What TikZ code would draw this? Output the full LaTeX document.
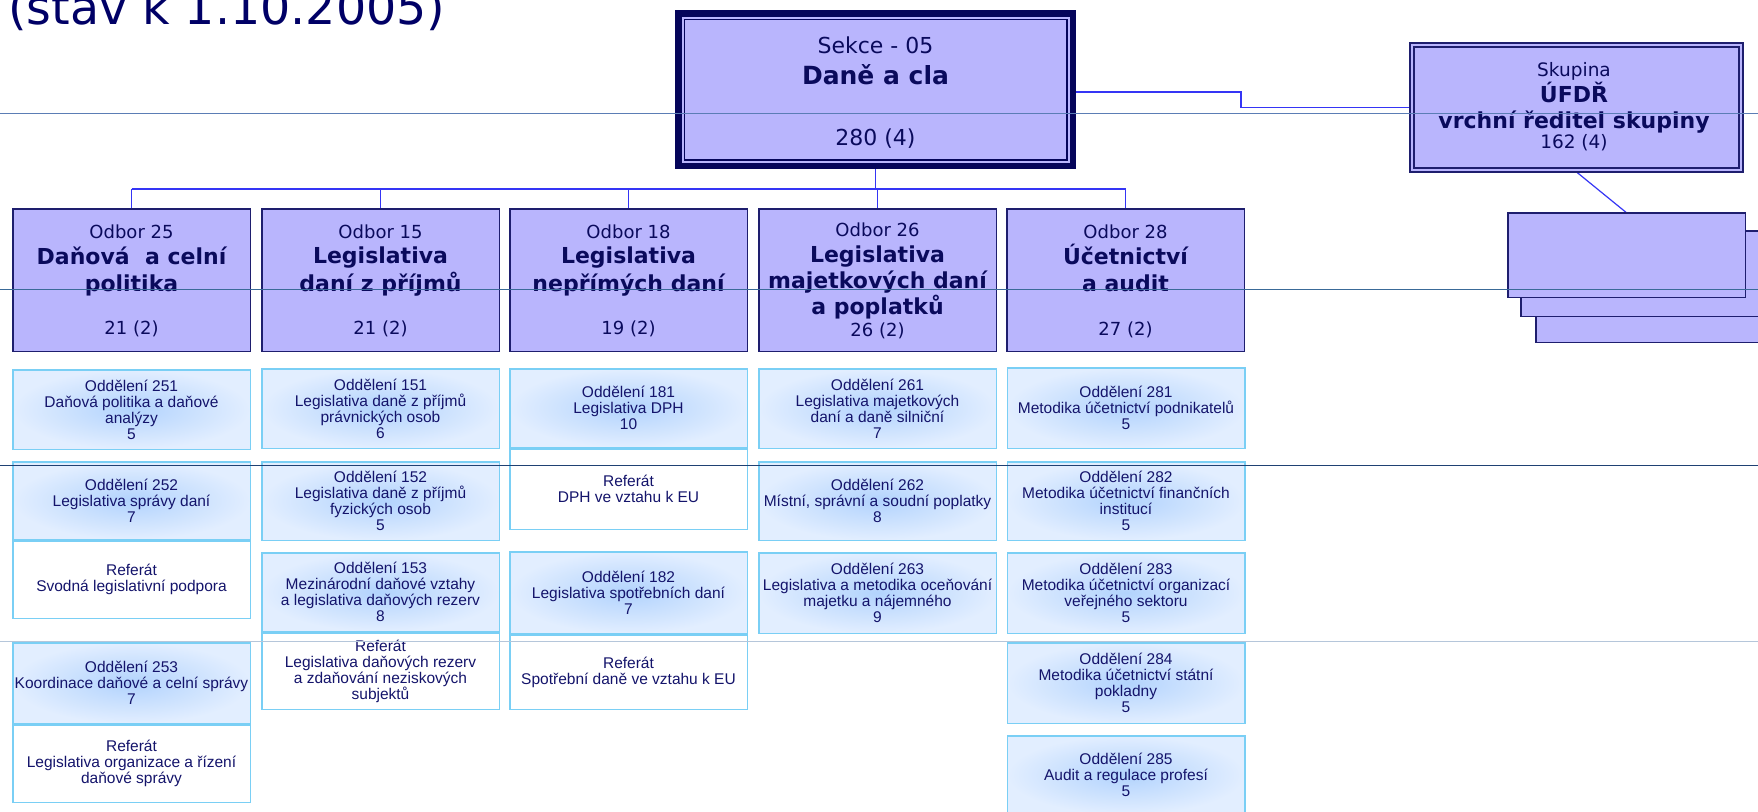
\documentclass[tikz,border=0pt]{standalone}
\usepackage{fontspec}
\setmainfont{DejaVu Sans}
\newfontfamily\arialf{Liberation Sans}
\usetikzlibrary{calc,backgrounds}
\definecolor{lav}{HTML}{B9B5FD}
\definecolor{boxline}{HTML}{1E1E6E}
\definecolor{boxthick}{HTML}{05055A}
\definecolor{navyt}{HTML}{0A0A5C}
\definecolor{titlec}{HTML}{000066}
\definecolor{connb}{HTML}{3535F5}
\definecolor{skyb}{HTML}{7ACFF5}
\definecolor{oddin}{HTML}{B2D3FD}
\definecolor{oddout}{HTML}{E2EEFF}
\definecolor{oddtext}{HTML}{14146B}
\definecolor{gA}{HTML}{5B7DB5}
\definecolor{gB}{HTML}{3A6A98}
\definecolor{gC}{HTML}{1F4173}
\definecolor{gD}{HTML}{B5C6DA}
\begin{document}
\begin{tikzpicture}[x=1pt,y=-1pt,
  conn/.style={draw=connb,line width=1.8pt},
  guide/.style={line width=1pt},
  odbor/.style={draw=boxline,line width=1.5pt,fill=lav,minimum width=237.5pt,minimum height=142.5pt,inner sep=0pt,outer sep=0pt},
  otxt/.style={text=navyt,inner sep=0pt,anchor=base},
  hd/.style={otxt,font=\fontsize{18}{20}\selectfont},
  tt/.style={otxt,font=\bfseries\fontsize{22}{26}\selectfont},
  dept/.style={draw=skyb,line width=1.5pt,minimum width=237.5pt,inner sep=0pt,outer sep=0pt,align=center,text=oddtext,font=\arialf\fontsize{15.5}{16}\selectfont},
  oddel/.style={dept,inner color=oddin,outer color=oddout},
  refer/.style={dept,fill=white},
  stack/.style={draw=boxline,line width=1.5pt,fill=lav,inner sep=0pt,outer sep=0pt}
]
\useasboundingbox (0,0) rectangle (1758,811);

% title
\node[anchor=base west,inner sep=0pt,text=titlec,font=\fontsize{47.5}{50}\selectfont] (title) at (8,24) {(stav k 1.10.2005)};

% Sekce
\node[draw=boxthick,fill=lav,line width=6.5pt,minimum width=394.5pt,minimum height=152.5pt,inner sep=0pt,outer sep=0pt] (sekce) at (875.5,89.5) {};
\draw[boxthick,line width=1.5pt] ($(sekce.north west)+(6,6)$) rectangle ($(sekce.south east)+(-6,-6)$);
\node[otxt,font=\fontsize{22}{24}\selectfont] (sekceA) at (875.5,53) {Sekce - 05};
\node[otxt,font=\bfseries\fontsize{25}{28}\selectfont] (sekceB) at (875.5,84) {Daně a cla};
\node[otxt,font=\fontsize{22}{24}\selectfont] (sekceC) at (875.5,145) {280 (4)};

% Skupina
\node[draw=boxline,fill=lav,line width=2pt,minimum width=333pt,minimum height=129pt,inner sep=0pt,outer sep=0pt] (skupina) at (1576.5,107.5) {};
\draw[boxline,line width=1.3pt] ($(skupina.north west)+(4,4)$) rectangle ($(skupina.south east)+(-4,-4)$);
\node[otxt,font=\fontsize{18.5}{20}\selectfont] (skA) at (1574,76.5) {Skupina};
\node[otxt,font=\bfseries\fontsize{22}{24}\selectfont] (skB) at (1574,102.5) {ÚFDŘ};
\node[otxt,font=\bfseries\fontsize{22}{24}\selectfont] (skC) at (1574,128) {vrchní ředitel skupiny};
\node[otxt,font=\fontsize{18.5}{20}\selectfont] (skD) at (1574,148) {162 (4)};

% stacked boxes
\node[stack,minimum width=253.5pt,minimum height=93.5pt] (stk3) at (1662.5,295.5) {};
\node[stack,minimum width=268.5pt,minimum height=85.5pt] (stk2) at (1655,273.5) {};
\node[stack,minimum width=237.5pt,minimum height=84.5pt] (stk1) at (1626.5,255) {};

% Odbor boxes
\node[odbor] (od25) at (131.5,280) {};
\node[hd] (od25a) at (131.5,238) {Odbor 25};
\node[tt] (od25b) at (131.5,264) {Daňová\ \ a celní};
\node[tt] (od25c) at (131.5,291) {politika};
\node[hd] (od25d) at (131.5,334) {21 (2)};

\node[odbor] (od15) at (380.5,280) {};
\node[hd] (od15a) at (380.5,238) {Odbor 15};
\node[tt] (od15b) at (380.5,263) {Legislativa};
\node[tt] (od15c) at (380.5,291) {daní z příjmů};
\node[hd] (od15d) at (380.5,334) {21 (2)};

\node[odbor] (od18) at (628.5,280) {};
\node[hd] (od18a) at (628.5,238) {Odbor 18};
\node[tt] (od18b) at (628.5,263) {Legislativa};
\node[tt] (od18c) at (628.5,291) {nepřímých daní};
\node[hd] (od18d) at (628.5,334) {19 (2)};

\node[odbor] (od26) at (877.5,280) {};
\node[hd] (od26a) at (877.5,236) {Odbor 26};
\node[tt] (od26b) at (877.5,262) {Legislativa};
\node[tt] (od26c) at (877.5,288) {majetkových daní};
\node[tt] (od26d) at (877.5,314) {a poplatků};
\node[hd] (od26e) at (877.5,336) {26 (2)};

\node[odbor] (od28) at (1125.5,280) {};
\node[hd] (od28a) at (1125.5,238) {Odbor 28};
\node[tt] (od28b) at (1125.5,264) {Účetnictví};
\node[tt] (od28c) at (1125.5,291) {a audit};
\node[hd] (od28d) at (1125.5,335) {27 (2)};

% column 1
\node[oddel,minimum height=79.5pt] (o251) at (131.5,409.5) {Oddělení 251\\Daňová politika a daňové\\analýzy\\5};
\node[oddel,minimum height=77.5pt] (o252) at (131.5,500.5) {Oddělení 252\\Legislativa správy daní\\7};
\node[refer,minimum height=77.5pt] (r252) at (131.5,579.5) {Referát\\Svodná legislativní podpora};
\node[oddel,minimum height=80.5pt] (o253) at (131.5,683) {Oddělení 253\\Koordinace daňové a celní správy\\7};
\node[refer,minimum height=77.5pt] (r253) at (131.5,763.5) {Referát\\Legislativa organizace a řízení\\daňové správy};

% column 2
\node[oddel,minimum height=79.5pt] (o151) at (380.5,408.5) {Oddělení 151\\Legislativa daně z příjmů\\právnických osob\\6};
\node[oddel,minimum height=78.5pt] (o152) at (380.5,501) {Oddělení 152\\Legislativa daně z příjmů\\fyzických osob\\5};
\node[oddel,minimum height=78.5pt] (o153) at (380.5,592) {Oddělení 153\\Mezinárodní daňové vztahy\\a legislativa daňových rezerv\\8};
\node[refer,minimum height=76.5pt] (r153) at (380.5,671) {Referát\\Legislativa daňových rezerv\\a zdaňování neziskových\\subjektů};

% column 3
\node[oddel,minimum height=78.5pt] (o181) at (628.5,408) {Oddělení 181\\Legislativa DPH\\10};
\node[refer,minimum height=80.5pt] (r181) at (628.5,489) {Referát\\DPH ve vztahu k EU};
\node[oddel,minimum height=81.5pt] (o182) at (628.5,592.5) {Oddělení 182\\Legislativa spotřebních daní\\7};
\node[refer,minimum height=74.5pt] (r182) at (628.5,672) {Referát\\Spotřební daně ve vztahu k EU};

% column 4
\node[oddel,minimum height=79.5pt] (o261) at (877.5,408.5) {Oddělení 261\\Legislativa majetkových\\daní a daně silniční\\7};
\node[oddel,minimum height=78.5pt] (o262) at (877.5,501) {Oddělení 262\\Místní, správní a soudní poplatky\\8};
\node[oddel,minimum height=80.5pt] (o263) at (877.5,593) {Oddělení 263\\Legislativa a metodika oceňování\\majetku a nájemného\\9};

% column 5
\node[oddel,minimum height=80.5pt] (o281) at (1126,408) {Oddělení 281\\Metodika účetnictví podnikatelů\\5};
\node[oddel,minimum height=78.5pt] (o282) at (1126,501) {Oddělení 282\\Metodika účetnictví finančních\\institucí\\5};
\node[oddel,minimum height=80.5pt] (o283) at (1126,593) {Oddělení 283\\Metodika účetnictví organizací\\veřejného sektoru\\5};
\node[oddel,minimum height=80.5pt] (o284) at (1126,683) {Oddělení 284\\Metodika účetnictví státní\\pokladny\\5};
\node[oddel,minimum height=78.5pt] (o285) at (1126,775) {Oddělení 285\\Audit a regulace profesí\\5};

% connectors
\coordinate (busL) at (131.5,189);
\coordinate (busR) at (1125.5,189);
\coordinate (kink) at (1241,107.5);
\begin{pgfonlayer}{background}
\fill[white] (0,0) rectangle (1758,811);
\draw[conn] (busL) -- (busR);
\draw[conn] (sekce.south) -- (sekce.south |- busL);
\draw[conn] (od25.north) -- (od25.north |- busL);
\draw[conn] (od15.north) -- (od15.north |- busL);
\draw[conn] (od18.north) -- (od18.north |- busL);
\draw[conn] (od26.north) -- (od26.north |- busL);
\draw[conn] (od28.north) -- (od28.north |- busL);
\draw[conn] ($(sekce.east)+(0,2.5)$) -| (kink) -- (skupina.west);
\draw[conn,line width=1.2pt] (skupina.south) -- (stk1.north);
\end{pgfonlayer}

% guide lines
\draw[guide,gA] (0,113) -- (1758,113);
\draw[guide,gB] (0,289) -- (1758,289);
\draw[guide,gC] (0,465) -- (1758,465);
\draw[guide,gD] (0,641) -- (1758,641);
\end{tikzpicture}
\end{document}
